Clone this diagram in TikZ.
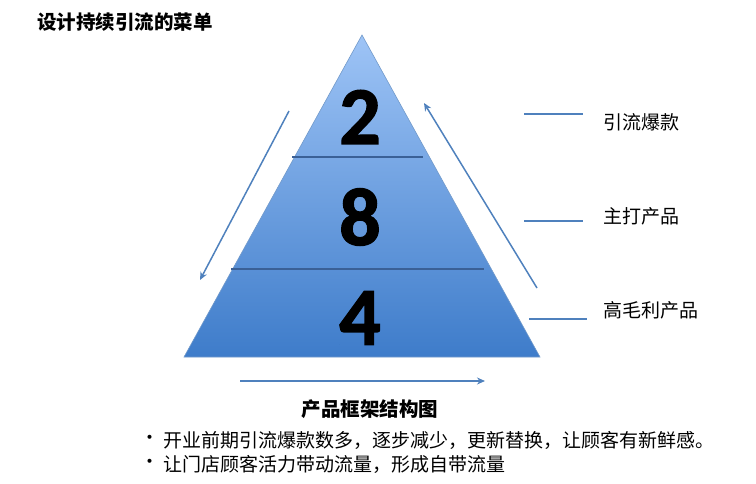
\documentclass[tikz,border=0pt]{standalone}
\usepackage{fontspec}
\newfontfamily\cjk{Noto Sans CJK SC}
\newfontfamily\digitfont[BoldFont={Carlito Bold}, BoldFeatures={FakeBold=1.6}]{Carlito}
\usetikzlibrary{arrows.meta}

\definecolor{officeblue}{RGB}{79,129,189}
\definecolor{pyrtop}{RGB}{158,196,246}
\definecolor{pyrbottom}{RGB}{62,124,202}
\definecolor{rulecol}{RGB}{58,96,150}

\begin{document}
\begin{tikzpicture}[
  x=1pt, y=-1pt,
  >={Stealth[length=8pt,width=7pt]},
  heading/.style={font=\cjk\bfseries\fontsize{19.5}{21}\selectfont, inner sep=0pt},
  digit/.style={font=\digitfont\bfseries\fontsize{82}{82}\selectfont, inner sep=0pt},
  tag/.style={font=\cjk\fontsize{19}{21}\selectfont, anchor=west, inner sep=0pt},
  bullet/.style={font=\cjk\fontsize{19}{21}\selectfont, anchor=west, inner sep=0pt},
  divider/.style={draw=rulecol, line width=1.6pt},
  tick/.style={draw=officeblue, line width=1.6pt},
  flow/.style={->, draw=officeblue, line width=1.5pt}
]
\useasboundingbox (0,0) rectangle (756,483);

% title
\node[heading, anchor=west] (title) at (37,22) {设计持续引流的菜单};

% pyramid
\coordinate (apex) at (362,35);
\coordinate (baseL) at (184,357);
\coordinate (baseR) at (540,357);
\shade[top color=pyrtop, bottom color=pyrbottom, draw=officeblue!80, line width=0.6pt]
  (apex) -- (baseR) -- (baseL) -- cycle;
\draw[divider] (292,157) -- (423,157);
\draw[divider] (231,269) -- (484,269);

\node[digit] (n2) at (360,117) {2};
\node[digit] (n8) at (360,217) {8};
\node[digit] (n4) at (360,318) {4};

% arrows around the pyramid
\coordinate (downA) at (289,111);
\coordinate (downB) at (200,280);
\coordinate (upA) at (537,288);
\coordinate (upB) at (424,103);
\coordinate (rightA) at (240,381);
\coordinate (rightB) at (485,381);
\draw[flow] (downA) -- (downB);
\draw[flow] (upA) -- (upB);
\draw[flow] (rightA) -- (rightB);

% legend
\node[tag] (hot) at (603,122) {引流爆款};
\node[tag] (main) at (603,216) {主打产品};
\node[tag] (margin) at (603,310) {高毛利产品};
\draw[tick] (524,114) -- (583,114);
\draw[tick] (524,221) -- (583,221);
\draw[tick] (529,319) -- (587,319);

% caption and notes
\node[heading] (caption) at (370,409) {产品框架结构图};
\node[bullet] (dot1) at (140,440) {•};
\node[bullet] (note1) at (163,440) {开业前期引流爆款数多，逐步减少，更新替换，让顾客有新鲜感。};
\node[bullet] (dot2) at (140,464) {•};
\node[bullet] (note2) at (163,464) {让门店顾客活力带动流量，形成自带流量};
\end{tikzpicture}
\end{document}
